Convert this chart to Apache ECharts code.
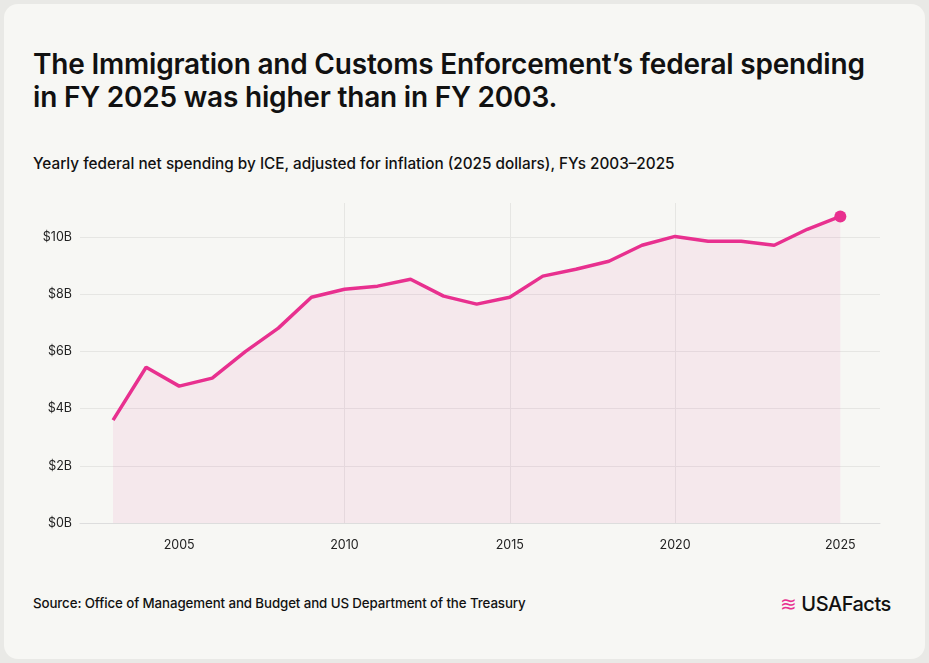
<!DOCTYPE html><html><head><meta charset="utf-8">
<script src="https://cdn.jsdelivr.net/npm/echarts@6/dist/echarts.min.js"></script>
<style>
body{margin:0;background:#e9e9e6;font-family:Inter,"Noto Sans",sans-serif;}
#card{position:absolute;left:4px;top:4px;width:921px;height:655px;background:#f7f7f4;border-radius:14px;}
#t{position:absolute;left:33px;top:48px;font-size:28px;font-weight:600;color:#111;line-height:33px;letter-spacing:-0.2px}
#s{position:absolute;left:33px;top:154px;font-size:15.3px;font-weight:500;color:#111}
#src{position:absolute;left:33px;top:595px;font-size:13.3px;font-weight:500;color:#111;letter-spacing:-0.1px}
#logo{position:absolute;left:780px;top:592px;font-size:20px;color:#111;font-weight:500;letter-spacing:-0.5px}
#logo span{color:#e8308f}
#c{position:absolute;left:0;top:0;width:929px;height:663px}
</style></head><body>
<div id="card"></div>
<div id="t">The Immigration and Customs Enforcement’s federal spending<br>in FY 2025 was higher than in FY 2003.</div>
<div id="s">Yearly federal net spending by ICE, adjusted for inflation (2025 dollars), FYs 2003–2025</div>
<div id="src">Source: Office of Management and Budget and US Department of the Treasury</div>
<div id="logo"><span>≋</span> USAFacts</div>
<div id="c"></div>
<script>
const years=[2003,2004,2005,2006,2007,2008,2009,2010,2011,2012,2013,2014,2015,2016,2017,2018,2019,2020,2021,2022,2023,2024,2025];
const spending=[3.6,5.45,4.79,5.07,6.0,6.82,7.9,8.18,8.29,8.53,7.94,7.66,7.9,8.64,8.88,9.16,9.72,10.03,9.86,9.86,9.72,10.28,10.73];
const xTicks=[2005,2010,2015,2020,2025];
const c=echarts.init(document.getElementById('c'));
const data=years.map((y,i)=>[y,spending[i]]);
c.setOption({
 grid:{left:80,right:49,top:203,bottom:140},
 xAxis:{type:'value',min:2002,max:2026.2,
  axisLine:{show:true,lineStyle:{color:'#dddddd'}},
  axisLabel:{customValues:xTicks,formatter:v=>String(v),color:'#222',fontSize:12.5,margin:16,fontFamily:'Inter'},
  splitLine:{show:true,showMinLine:false,showMaxLine:false,lineStyle:{color:'#e6e6e3'}},
  axisTick:{show:false,customValues:xTicks}},
 yAxis:{type:'value',min:0,max:11.2,interval:2,axisLine:{show:false},axisTick:{show:false},
  axisLabel:{formatter:v=>'$'+v+'B',color:'#222',fontSize:12.5,showMaxLabel:false,fontFamily:'Inter'},
  splitLine:{showMaxLine:false,lineStyle:{color:'#e6e6e3'}}},
 series:[{type:'line',data:data,symbol:'none',lineStyle:{color:'#e8308f',width:3.5},
  areaStyle:{color:'rgba(232,48,143,0.1)'},
  markPoint:{symbol:'circle',symbolSize:12,itemStyle:{color:'#e8308f'},label:{show:false},data:[{coord:[2025,10.73]}]}}]
});
</script></body></html>
